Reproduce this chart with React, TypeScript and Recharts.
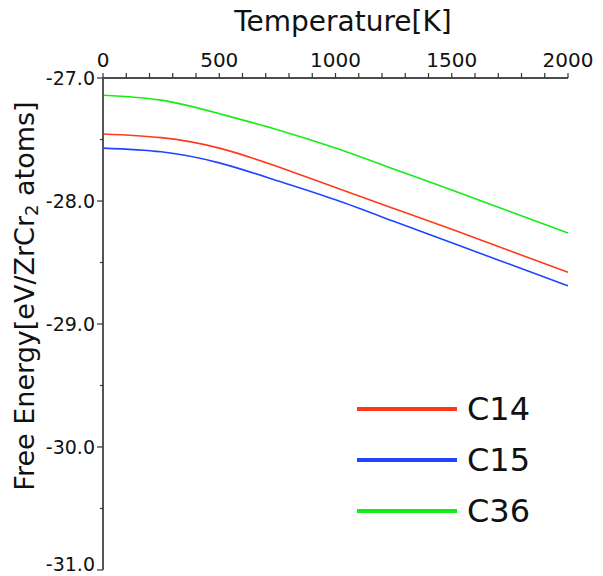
import { Label, Line, LineChart, XAxis, YAxis } from 'recharts';

// Temperature grid [K] and free energies [eV/ZrCr2 atoms]
const TEMPS = [0, 250, 500, 750, 1000, 1250, 1500, 1750, 2000];
const C14 = [-27.455, -27.485, -27.57, -27.72, -27.89, -28.06, -28.23, -28.405, -28.58];
const C15 = [-27.57, -27.6, -27.69, -27.835, -27.99, -28.165, -28.34, -28.515, -28.69];
const C36 = [-27.14, -27.18, -27.29, -27.42, -27.57, -27.74, -27.91, -28.085, -28.26];

const X_TICKS = [0, 100, 200, 300, 400, 500, 600, 700, 800, 900, 1000, 1100, 1200, 1300, 1400, 1500, 1600, 1700, 1800, 1900, 2000];
const Y_TICKS = [-31, -30.5, -30, -29.5, -29, -28.5, -28, -27.5, -27];

const SERIES = [
  { key: 'C14', color: '#ff3a1c' },
  { key: 'C15', color: '#2244ff' },
  { key: 'C36', color: '#14ee14' },
];

const FONT = '"DejaVu Sans", sans-serif';
const AXIS = '#333';

const data = TEMPS.map((t, i) => ({ t, C14: C14[i], C15: C15[i], C36: C36[i] }));

function YTick(props: any) {
  const { x, y, payload } = props;
  const v = payload.value as number;
  const major = Number.isInteger(v);
  // bottom label sits above its tick so it stays on the page
  const dy = v === -31 ? 1 : 7;
  return (
    <g>
      <line x1={x + 2 + (major ? 0 : 3)} x2={x + 8} y1={y} y2={y} stroke={AXIS} strokeWidth={1.2} />
      {major && (
        <text x={x} y={y} dy={dy} textAnchor="end" fontSize={19} fill="#111" fontFamily={FONT}>
          {v.toFixed(1)}
        </text>
      )}
    </g>
  );
}

// legend drawn as an overlay so it doesn't eat plot space
function LegendBox() {
  return (
    <div style={{ position: 'absolute', left: 357, top: 383, fontFamily: FONT }}>
      {SERIES.map((s) => (
        <div key={s.key} style={{ display: 'flex', alignItems: 'center', height: 51 }}>
          <div style={{ width: 100, height: 4, background: s.color, marginRight: 10 }} />
          <span style={{ fontSize: 32, color: '#111', lineHeight: '32px' }}>{s.key}</span>
        </div>
      ))}
    </div>
  );
}

export default function App() {
  return (
    <div style={{ position: 'absolute', left: 0, top: 0, width: 603, height: 576, background: '#fff' }}>
      <LineChart
        width={603}
        height={576}
        data={data}
        margin={{ top: 48, right: 35, bottom: 6, left: 43 }}
        style={{ fontFamily: FONT }}
      >
        <XAxis
          dataKey="t"
          type="number"
          orientation="top"
          domain={[0, 2000]}
          ticks={X_TICKS}
          interval={0}
          height={30}
          tickSize={5}
          tickMargin={6}
          tickFormatter={(v: number) => (v % 500 === 0 ? String(v) : '')}
          tick={{ fontSize: 20, fill: '#111', fontFamily: FONT }}
          axisLine={{ stroke: '#111', strokeWidth: 1.5 }}
          tickLine={{ stroke: AXIS, strokeWidth: 1.2 }}
        >
          <Label
            content={() => (
              <text x={343} y={31} textAnchor="middle" fontSize={28} fill="#111" fontFamily={FONT}>
                Temperature[K]
              </text>
            )}
          />
        </XAxis>
        <YAxis
          type="number"
          domain={[-31, -27]}
          ticks={Y_TICKS}
          interval={0}
          width={60}
          tickSize={6}
          tickMargin={2}
          tick={<YTick />}
          tickLine={false}
          axisLine={{ stroke: '#555', strokeWidth: 2 }}
        >
          <Label
            content={() => (
              <text
                transform="translate(34, 296) rotate(-90)"
                textAnchor="middle"
                fontSize={27}
                fill="#111"
                fontFamily={FONT}
              >
                Free Energy[eV/ZrCr
                <tspan fontSize={18} dy={4}>2</tspan>
                <tspan dy={-4}> atoms]</tspan>
              </text>
            )}
          />
        </YAxis>
        {SERIES.map((s) => (
          <Line
            key={s.key}
            dataKey={s.key}
            type="natural"
            stroke={s.color}
            strokeWidth={1.6}
            dot={false}
            isAnimationActive={false}
          />
        ))}
      </LineChart>
      <LegendBox />
    </div>
  );
}
